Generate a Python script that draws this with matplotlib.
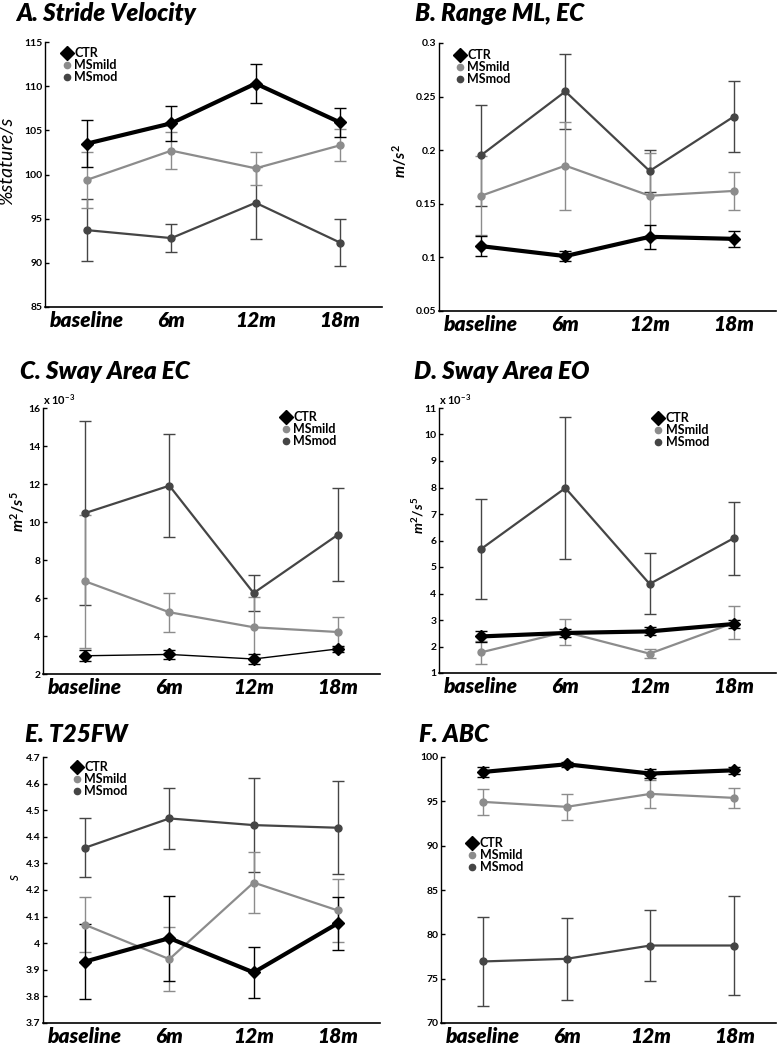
import numpy as np
import matplotlib
matplotlib.use('Agg')
import matplotlib.pyplot as plt
from matplotlib.lines import Line2D
from matplotlib.ticker import FuncFormatter

plt.rcParams['font.family'] = ['Lato', 'DejaVu Sans']
plt.rcParams['font.weight'] = 'bold'
plt.rcParams['mathtext.fontset'] = 'custom'
plt.rcParams['mathtext.it'] = 'Lato:italic:bold'
plt.rcParams['mathtext.rm'] = 'Lato:bold'
plt.rcParams['mathtext.bf'] = 'Lato:bold'

timepoints = ['baseline', '6m', '12m', '18m']
groups = ['CTR', 'MSmild', 'MSmod']

# A. Stride Velocity (%stature/s)
stride_ctr = [103.5, 105.8, 110.3, 105.9]
stride_ctr_err = [2.65, 2.0, 2.2, 1.6]
stride_mild = [99.4, 102.7, 100.7, 103.3]
stride_mild_err = [3.2, 2.1, 1.9, 1.8]
stride_mod = [93.7, 92.8, 96.8, 92.3]
stride_mod_err = [3.5, 1.55, 4.1, 2.7]

# B. Range ML, EC (m/s^2)
range_ctr = [0.1105, 0.1012, 0.1192, 0.1173]
range_ctr_err = [0.0095, 0.005, 0.011, 0.0075]
range_mild = [0.1575, 0.1856, 0.1575, 0.162]
range_mild_err = [0.037, 0.041, 0.04, 0.018]
range_mod = [0.1953, 0.2548, 0.1806, 0.2314]
range_mod_err = [0.047, 0.035, 0.02, 0.033]

# C. Sway Area EC (m^2/s^5)
swayec_ctr = [2.96e-3, 3.03e-3, 2.79e-3, 3.32e-3]
swayec_ctr_err = [0.3e-3, 0.25e-3, 0.25e-3, 0.15e-3]
swayec_mild = [6.88e-3, 5.25e-3, 4.46e-3, 4.21e-3]
swayec_mild_err = [3.5e-3, 1.02e-3, 1.6e-3, 0.8e-3]
swayec_mod = [10.47e-3, 11.91e-3, 6.26e-3, 9.33e-3]
swayec_mod_err = [4.86e-3, 2.7e-3, 0.95e-3, 2.45e-3]

# D. Sway Area EO (m^2/s^5)
swayeo_ctr = [2.38e-3, 2.51e-3, 2.57e-3, 2.85e-3]
swayeo_ctr_err = [0.2e-3, 0.15e-3, 0.15e-3, 0.15e-3]
swayeo_mild = [1.78e-3, 2.55e-3, 1.73e-3, 2.89e-3]
swayeo_mild_err = [0.43e-3, 0.5e-3, 0.17e-3, 0.62e-3]
swayeo_mod = [5.68e-3, 7.98e-3, 4.36e-3, 6.09e-3]
swayeo_mod_err = [1.88e-3, 2.67e-3, 1.15e-3, 1.38e-3]

# E. T25FW (s)
t25_ctr = [3.931, 4.019, 3.89, 4.075]
t25_ctr_err = [0.14, 0.16, 0.095, 0.1]
t25_mild = [4.069, 3.94, 4.228, 4.123]
t25_mild_err = [0.103, 0.12, 0.115, 0.12]
t25_mod = [4.359, 4.469, 4.444, 4.434]
t25_mod_err = [0.11, 0.115, 0.178, 0.175]

# F. ABC
abc_ctr = [98.31, 99.18, 98.13, 98.5]
abc_ctr_err = [0.6, 0.3, 0.5, 0.4]
abc_mild = [94.94, 94.38, 95.84, 95.39]
abc_mild_err = [1.5, 1.45, 1.55, 1.15]
abc_mod = [76.94, 77.24, 78.74, 78.74]
abc_mod_err = [5.0, 4.6, 4.05, 5.6]

ctr_col = 'black'
mild_col = '#8c8c8c'
mod_col = '#454545'

x = np.arange(1, len(timepoints) + 1)

fig = plt.figure(figsize=(7.78, 10.5), dpi=100)

W, H = 778, 1050
def px_axes(left, top, right, bottom):
    return fig.add_axes([left / W, 1 - bottom / H, (right - left) / W, (bottom - top) / H])

panels = [
    dict(title='A. Stride Velocity', tpos=(16, 21), box=(45, 42, 382, 307),
         data=(stride_ctr, stride_ctr_err, stride_mild, stride_mild_err, stride_mod, stride_mod_err),
         yticks=np.arange(85, 116, 5), scale=1, ylabel='%stature/s', ylsize=14,
         lab=(-0.089, 0.55), leg=(0.049, 0.981), ctr_lw=3.0),
    dict(title='B. Range ML, EC', tpos=(415, 21), box=(439, 43, 776, 311),
         data=(range_ctr, range_ctr_err, range_mild, range_mild_err, range_mod, range_mod_err),
         yticks=np.arange(0.05, 0.31, 0.05), scale=1, ylabel=r'$m/s^2$', ylsize=11,
         lab=(-0.089, 0.56), leg=(0.046, 0.978), ctr_lw=3.0),
    dict(title='C. Sway Area EC', tpos=(20, 379), box=(43, 408, 380, 674),
         data=(swayec_ctr, swayec_ctr_err, swayec_mild, swayec_mild_err, swayec_mod, swayec_mod_err),
         yticks=np.arange(2e-3, 16.1e-3, 2e-3), scale=1e3, ylabel=r'$m^2/s^5$', ylsize=11,
         lab=(-0.047, 0.61), leg=(0.705, 0.989), ctr_lw=1.0),
    dict(title='D. Sway Area EO', tpos=(414, 379), box=(439, 408, 776, 673),
         data=(swayeo_ctr, swayeo_ctr_err, swayeo_mild, swayeo_mild_err, swayeo_mod, swayeo_mod_err),
         yticks=np.arange(1e-3, 11.1e-3, 1e-3), scale=1e3, ylabel=r'$m^2/s^5$', ylsize=10,
         lab=(-0.039, 0.596), leg=(0.636, 0.985), ctr_lw=3.0),
    dict(title='E. T25FW', tpos=(25, 742), box=(43, 757, 380, 1023),
         data=(t25_ctr, t25_ctr_err, t25_mild, t25_mild_err, t25_mod, t25_mod_err),
         yticks=np.arange(3.7, 4.71, 0.1), scale=1, ylabel='s', ylsize=11,
         lab=(-0.062, 0.545), leg=(0.085, 0.985), ctr_lw=3.0),
    dict(title='F. ABC', tpos=(419, 742), box=(441, 757, 776, 1023),
         data=(abc_ctr, abc_ctr_err, abc_mild, abc_mild_err, abc_mod, abc_mod_err),
         yticks=np.arange(70, 101, 5), scale=1, ylabel='', ylsize=11,
         lab=(-0.06, 0.5), leg=(0.079, 0.699), ctr_lw=3.0),
]

for p in panels:
    ax = px_axes(*p['box'])
    ctr, ctr_err, mild, mild_err, mod, mod_err = p['data']

    ax.errorbar(x, mod, yerr=mod_err, color=mod_col, lw=1.6, marker='o', ms=5,
                capsize=4, elinewidth=1, capthick=1)
    ax.errorbar(x, mild, yerr=mild_err, color=mild_col, lw=1.6, marker='o', ms=5,
                capsize=4, elinewidth=1, capthick=1)
    ax.errorbar(x, ctr, yerr=ctr_err, color=ctr_col, lw=p['ctr_lw'], marker='D', ms=6.5,
                capsize=4, elinewidth=1, capthick=1)

    ax.set_xlim(0.5, 4.5)
    ax.set_ylim(p['yticks'][0], p['yticks'][-1])
    ax.set_yticks(p['yticks'])
    sc = p['scale']
    ax.yaxis.set_major_formatter(FuncFormatter(lambda v, pos, sc=sc: f'{round(v * sc, 6):g}'))
    ax.set_xticks(x)
    ax.set_xticklabels(timepoints, fontsize=15, style='italic', fontweight='heavy')

    ax.spines['top'].set_visible(False)
    ax.spines['right'].set_visible(False)
    ax.spines['left'].set_linewidth(1.0)
    ax.spines['bottom'].set_linewidth(1.2)
    ax.tick_params(axis='x', length=0, pad=3)
    ax.tick_params(axis='y', direction='in', length=3, width=1, labelsize=7.5, pad=2)

    if p['ylabel']:
        ax.set_ylabel(p['ylabel'], fontsize=p['ylsize'], style='italic')
        ax.yaxis.set_label_coords(*p['lab'])

    if sc != 1:
        ax.text(0.0, 1.005, r'x 10$^{\mathrm{-3}}$', transform=ax.transAxes,
                fontsize=8, ha='left', va='bottom')

    handles = [Line2D([], [], ls='none', marker='D', ms=7, color=ctr_col),
               Line2D([], [], ls='none', marker='o', ms=4.5, color=mild_col),
               Line2D([], [], ls='none', marker='o', ms=4.5, color=mod_col)]
    ax.legend(handles, groups, loc='upper left', bbox_to_anchor=p['leg'], frameon=False,
              fontsize=9, handlelength=0.8, handletextpad=0.2, labelspacing=0.0,
              borderpad=0, borderaxespad=0)

    fig.text(p['tpos'][0] / W, 1 - p['tpos'][1] / H, p['title'], fontsize=17.5,
             style='italic', fontweight='heavy', ha='left', va='baseline')

fig.savefig('out.png', dpi=100)
